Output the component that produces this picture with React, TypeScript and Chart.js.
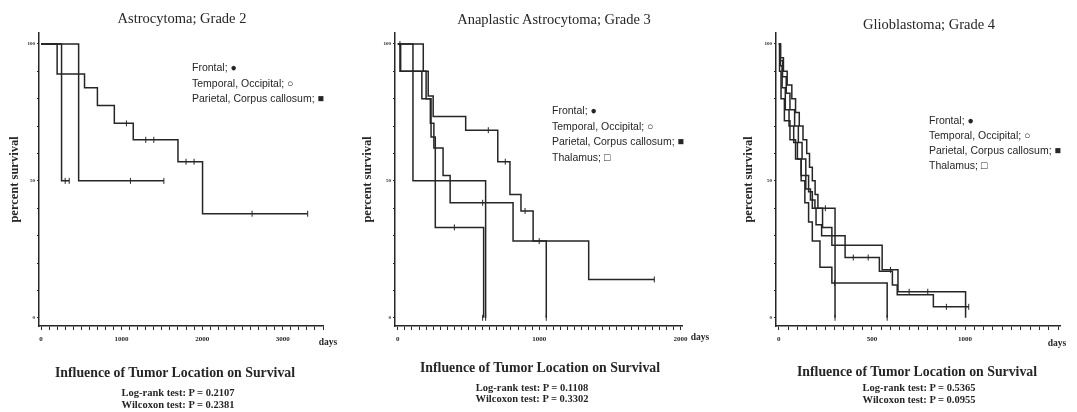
import React, { useEffect, useRef } from "react";
import { Chart, registerables } from "chart.js";

Chart.register(...registerables);

type Pt = [number, number];

// ---------- Shared axis data ----------
const yTickValues = [0, 10, 20, 30, 40, 50, 60, 70, 80, 90, 100];
const yTickLabels = [0, 50, 100];
const yTitle = "percent survival";
const xTitle = "days";
const bottomTitle = "Influence of Tumor Location on Survival";

// ---------- Panel 1: Astrocytoma; Grade 2 ----------
const astroTitle = "Astrocytoma; Grade 2";
const astroFrontal: Pt[] = [[0, 100], [200, 89], [540, 84], [700, 77.5], [910, 71], [1145, 65], [1700, 57], [2005, 38], [3310, 38]];
const astroTemporal: Pt[] = [[0, 100], [255, 50], [350, 50]];
const astroParietal: Pt[] = [[0, 100], [467, 50], [1525, 50]];
const astroCensorFrontal: Pt[] = [[1060, 71], [1300, 65], [1400, 65], [1800, 57], [1900, 57], [2620, 38], [3310, 38]];
const astroCensorTemporal: Pt[] = [[300, 50], [350, 50]];
const astroCensorParietal: Pt[] = [[1110, 50], [1525, 50]];
const astroXLabels = [0, 1000, 2000, 3000];
const astroLegend = ["Frontal; ●", "Temporal, Occipital; ○", "Parietal, Corpus callosum; ■"];
const astroStats = ["Log-rank test: P = 0.2107", "Wilcoxon test: P = 0.2381"];

// ---------- Panel 2: Anaplastic Astrocytoma; Grade 3 ----------
const anaTitle = "Anaplastic Astrocytoma; Grade 3";
const anaFrontal: Pt[] = [[0, 100], [180, 90], [215, 81], [250, 73.5], [480, 68.5], [707, 57], [793, 45], [871, 39], [957, 28], [1350, 14], [1814, 14]];
const anaTemporal: Pt[] = [[0, 100], [15, 90], [170, 80], [230, 71], [255, 62], [320, 52], [370, 42], [815, 28], [1050, 0]];
const anaParietal: Pt[] = [[0, 100], [20, 90], [200, 80], [235, 66], [265, 33], [607, 0]];
const anaThalamus: Pt[] = [[0, 100], [107, 50], [621, 0]];
const anaCensorFrontal: Pt[] = [[640, 68.5], [760, 57], [900, 39], [1000, 28], [1814, 14]];
const anaCensorTemporal: Pt[] = [[600, 42], [1050, 0]];
const anaCensorParietal: Pt[] = [[400, 33], [600, 0]];
const anaCensorThalamus: Pt[] = [[15, 100], [621, 0]];
const anaXLabels = [0, 1000, 2000];
const anaLegend = ["Frontal; ●", "Temporal, Occipital; ○", "Parietal, Corpus callosum; ■", "Thalamus; □"];
const anaStats = ["Log-rank test: P = 0.1108", "Wilcoxon test: P = 0.3302"];

// ---------- Panel 3: Glioblastoma; Grade 4 ----------
const gbmTitle = "Glioblastoma; Grade 4";
const gbmFrontal: Pt[] = [[0, 100], [10, 95], [25, 90], [45, 85], [70, 80], [90, 75], [110, 70], [130, 65], [150, 60], [165, 55], [180, 50], [195, 45], [210, 40], [235, 33], [285, 26.5], [555, 17.5], [640, 9.5], [1003, 0]];
const gbmTemporal: Pt[] = [[0, 100], [5, 94], [20, 88], [40, 82], [60, 76], [85, 70], [105, 64], [125, 58], [145, 52], [160, 46], [180, 40], [200, 34], [230, 30], [356, 22], [540, 17], [610, 12], [636, 8.4], [830, 4], [1020, 4]];
const gbmParietal: Pt[] = [[0, 100], [8, 92], [18, 84], [35, 76], [55, 70], [80, 64], [100, 58], [120, 52], [145, 47], [170, 43], [194, 40], [302, 0]];
const gbmThalamus: Pt[] = [[0, 100], [4, 90], [12, 80], [30, 72], [60, 65], [90, 58], [120, 50], [140, 42], [160, 35], [180, 28], [221, 18.5], [285, 12.7], [582, 0]];
const gbmCensorFrontal: Pt[] = [[600, 17.5], [700, 9.5], [800, 9.5]];
const gbmCensorTemporal: Pt[] = [[400, 22], [480, 22], [900, 4], [1020, 4]];
const gbmCensorParietal: Pt[] = [[250, 40], [302, 0]];
const gbmCensorThalamus: Pt[] = [[300, 12.7], [582, 0]];
const gbmXLabels = [0, 500, 1000];
const gbmLegend = ["Frontal; ●", "Temporal, Occipital; ○", "Parietal, Corpus callosum; ■", "Thalamus; □"];
const gbmStats = ["Log-rank test: P = 0.5365", "Wilcoxon test: P = 0.0955"];

const INK = "#262626";
const SERIF = "'Liberation Serif', 'DejaVu Serif', serif";
const SANS = "'Liberation Sans', 'DejaVu Sans', sans-serif";

interface PanelProps {
  curves: Pt[][];
  censors: Pt[][];
  xLabels: number[];
  left: number;
  width: number;
  yAxisWidth: number;
  padRight: number;
  yTitlePad: number;
  xMin: number;
  xMax: number;
  xStep: number;
}

function Panel(p: PanelProps) {
  const ref = useRef<HTMLCanvasElement | null>(null);
  useEffect(() => {
    if (!ref.current) return;
    const xTicks: number[] = [];
    for (let v = 0; v <= p.xMax + 0.001; v += p.xStep) xTicks.push(v);
    const datasets: any[] = [];
    p.curves.forEach((c) => {
      datasets.push({
        data: c.map(([x, y]) => ({ x, y })),
        stepped: "before",
        borderColor: INK,
        borderWidth: 1.5,
        pointRadius: 0,
        fill: false,
      });
    });
    p.censors.forEach((c) => {
      datasets.push({
        data: c.map(([x, y]) => ({ x, y })),
        showLine: false,
        pointStyle: "line",
        rotation: 90,
        pointRadius: 3,
        borderColor: INK,
        pointBorderColor: INK,
        borderWidth: 1,
      });
    });
    const chart = new Chart(ref.current, {
      type: "line",
      data: { datasets },
      options: {
        animation: false,
        responsive: false,
        maintainAspectRatio: false,
        layout: { padding: { left: 0, right: p.padRight, top: 33, bottom: 66 } },
        plugins: { legend: { display: false }, tooltip: { enabled: false }, title: { display: false } },
        scales: {
          x: {
            type: "linear",
            min: p.xMin,
            max: p.xMax,
            afterBuildTicks: (s: any) => {
              s.ticks = xTicks.map((v) => ({ value: v }));
            },
            afterFit: (s: any) => {
              s.height = 20;
            },
            ticks: {
              autoSkip: false,
              maxRotation: 0,
              padding: 5,
              color: INK,
              font: { size: 7, family: SERIF, weight: "bold" },
              callback: (v: any) => (p.xLabels.includes(Number(v)) ? String(v) : ""),
            },
            grid: { drawOnChartArea: false, drawTicks: true, tickLength: 4, tickColor: INK, tickWidth: 1 },
            border: { display: true, color: INK, width: 1.5 },
          },
          y: {
            type: "linear",
            min: -3,
            max: 104,
            afterBuildTicks: (s: any) => {
              s.ticks = yTickValues.map((v) => ({ value: v }));
            },
            afterFit: (s: any) => {
              s.width = p.yAxisWidth;
            },
            ticks: {
              autoSkip: false,
              padding: 2,
              color: INK,
              font: { size: 5, family: SERIF, weight: "bold" },
              callback: (v: any) => (yTickLabels.includes(Number(v)) ? String(v) : ""),
            },
            grid: { drawOnChartArea: false, drawTicks: true, tickLength: 2, tickColor: INK, tickWidth: 1 },
            border: { display: true, color: INK, width: 1.5 },
            title: {
              display: true,
              text: yTitle,
              color: INK,
              font: { size: 12.5, family: SERIF, weight: "bold" },
              padding: { top: p.yTitlePad, bottom: 0 },
            },
          },
        },
      },
    } as any);
    return () => chart.destroy();
  }, []);
  return (
    <canvas
      ref={ref}
      width={p.width}
      height={412}
      style={{ position: "absolute", left: p.left, top: 0, width: p.width, height: 412 }}
    />
  );
}

function Txt(props: { x: number; y: number; size: number; family: string; weight?: any; center?: boolean; children: any }) {
  return (
    <div
      style={{
        position: "absolute",
        left: props.x,
        top: props.y,
        transform: props.center ? "translate(-50%, -50%)" : "translate(0, -50%)",
        whiteSpace: "nowrap",
        fontSize: props.size,
        fontFamily: props.family,
        fontWeight: props.weight || "normal",
        color: INK,
        lineHeight: 1,
      }}
    >
      {props.children}
    </div>
  );
}

export default function App() {
  return (
    <div style={{ position: "fixed", left: 0, top: 0, width: 1077, height: 412, background: "#fff", overflow: "hidden" }}>
      <Panel
        curves={[astroFrontal, astroTemporal, astroParietal]}
        censors={[astroCensorFrontal, astroCensorTemporal, astroCensorParietal]}
        xLabels={astroXLabels}
        left={0}
        width={360}
        yAxisWidth={39}
        padRight={37}
        yTitlePad={7}
        xMin={-25}
        xMax={3500}
        xStep={100}
      />
      <Panel
        curves={[anaFrontal, anaTemporal, anaParietal, anaThalamus]}
        censors={[anaCensorFrontal, anaCensorTemporal, anaCensorParietal, anaCensorThalamus]}
        xLabels={anaXLabels}
        left={360}
        width={357}
        yAxisWidth={35}
        padRight={35}
        yTitlePad={0}
        xMin={-20}
        xMax={2010}
        xStep={50}
      />
      <Panel
        curves={[gbmFrontal, gbmTemporal, gbmParietal, gbmThalamus]}
        censors={[gbmCensorFrontal, gbmCensorTemporal, gbmCensorParietal, gbmCensorThalamus]}
        xLabels={gbmXLabels}
        left={717}
        width={360}
        yAxisWidth={59}
        padRight={17}
        yTitlePad={24}
        xMin={-15}
        xMax={1510}
        xStep={50}
      />

      <Txt x={182} y={18} size={14.5} family={SERIF} center>{astroTitle}</Txt>
      <Txt x={554} y={19} size={14.5} family={SERIF} center>{anaTitle}</Txt>
      <Txt x={929} y={24} size={14.5} family={SERIF} center>{gbmTitle}</Txt>

      {astroLegend.map((t, i) => (
        <Txt key={"l1" + i} x={192} y={67 + i * 15.5} size={10.5} family={SANS}>{t}</Txt>
      ))}
      {anaLegend.map((t, i) => (
        <Txt key={"l2" + i} x={552} y={110 + i * 15.7} size={10.5} family={SANS}>{t}</Txt>
      ))}
      {gbmLegend.map((t, i) => (
        <Txt key={"l3" + i} x={929} y={120 + i * 15} size={10.5} family={SANS}>{t}</Txt>
      ))}

      <Txt x={328} y={343} size={9.5} family={SERIF} weight="bold" center>{xTitle}</Txt>
      <Txt x={700} y={338} size={9.5} family={SERIF} weight="bold" center>{xTitle}</Txt>
      <Txt x={1057} y={344} size={9.5} family={SERIF} weight="bold" center>{xTitle}</Txt>

      <Txt x={175} y={373} size={13.8} family={SERIF} weight="bold" center>{bottomTitle}</Txt>
      <Txt x={540} y={368} size={13.8} family={SERIF} weight="bold" center>{bottomTitle}</Txt>
      <Txt x={917} y={372} size={13.8} family={SERIF} weight="bold" center>{bottomTitle}</Txt>

      {astroStats.map((t, i) => (
        <Txt key={"s1" + i} x={178} y={393 + i * 12} size={10.5} family={SERIF} weight="bold" center>{t}</Txt>
      ))}
      {anaStats.map((t, i) => (
        <Txt key={"s2" + i} x={532} y={388 + i * 11} size={10.5} family={SERIF} weight="bold" center>{t}</Txt>
      ))}
      {gbmStats.map((t, i) => (
        <Txt key={"s3" + i} x={919} y={388 + i * 12} size={10.5} family={SERIF} weight="bold" center>{t}</Txt>
      ))}
    </div>
  );
}
